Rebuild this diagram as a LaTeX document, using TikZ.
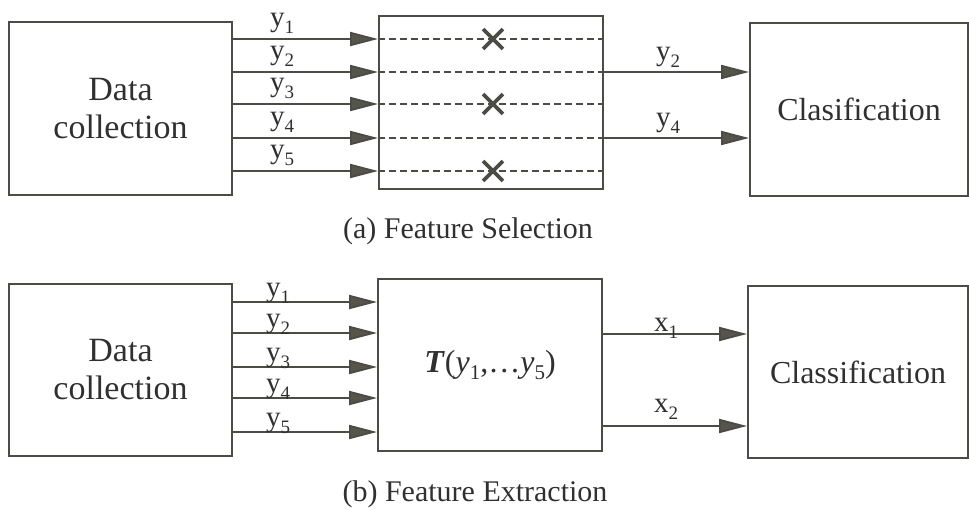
\documentclass[tikz,border=0pt]{standalone}
\usepackage{fontspec}
\setmainfont{Liberation Serif}
\usetikzlibrary{arrows.meta,shapes.misc}
\definecolor{ln}{HTML}{4C4C46}
\definecolor{tx}{HTML}{303030}
\definecolor{hd}{HTML}{55554B}
\newcommand{\mylbl}[2]{{\fontsize{29}{29}\selectfont #1\raisebox{-7pt}{\fontsize{19}{19}\selectfont #2}}}
\newcommand{\mysub}[1]{\raisebox{-7pt}{\fontsize{21}{21}\selectfont #1}}
\begin{document}
\begin{tikzpicture}[x=1pt,y=-1pt,
 box/.style={draw=ln, line width=1.9pt, inner sep=0pt, text=tx},
 arr/.style={draw=ln, line width=1.9pt, -{Triangle[length=28pt,width=14pt,fill=hd]}},
 dsh/.style={draw=ln, line width=2pt, dash pattern=on 7pt off 4pt},
 xmark/.style={cross out, draw=ln, line width=3.8pt, minimum size=16pt, inner sep=0pt},
 lab/.style={anchor=base, text=tx, inner sep=0pt},
 captext/.style={text=tx, inner sep=0pt, font=\fontsize{30}{30}\selectfont},
 big/.style={font=\fontsize{34}{38}\selectfont, align=center},
 cls/.style={font=\fontsize{32}{32}\selectfont},
]
\useasboundingbox (0,0) rectangle (969,509);

% ---------- (a) Feature Selection ----------
\node[box, big, minimum width=223pt, minimum height=173pt] (dc1) at (120.5,108.5) {Data\\collection};
\node[box, minimum width=224pt, minimum height=173pt] (sel) at (491,102.5) {};
\node[box, cls, minimum width=218pt, minimum height=173pt] (cl1) at (859,109.5) {Clasification};

\coordinate (a1) at (0,39);
\coordinate (a2) at (0,72);
\coordinate (a3) at (0,104);
\coordinate (a4) at (0,138);
\coordinate (a5) at (0,171);

\foreach \i in {1,...,5}{
  \draw[arr] (dc1.east |- a\i) -- (sel.west |- a\i);
  \draw[dsh] (sel.west |- a\i) -- (sel.east |- a\i);
}
\node[xmark] (x1) at (493,39) {};
\node[xmark] (x3) at (493,104) {};
\node[xmark] (x5) at (493,171) {};

\draw[arr] (sel.east |- a2) -- (cl1.west |- a2);
\draw[arr] (sel.east |- a4) -- (cl1.west |- a4);

\node[lab] (ly1) at (282,26) {\mylbl{y}{1}};
\node[lab] (ly2) at (282,59) {\mylbl{y}{2}};
\node[lab] (ly3) at (282,91) {\mylbl{y}{3}};
\node[lab] (ly4) at (282,125) {\mylbl{y}{4}};
\node[lab] (ly5) at (282,158) {\mylbl{y}{5}};
\node[lab] (ry2) at (668,60) {\mylbl{y}{2}};
\node[lab] (ry4) at (668,126) {\mylbl{y}{4}};

\node[captext] (capa) at (468,231) {(a) Feature Selection};

% ---------- (b) Feature Extraction ----------
\node[box, big, minimum width=223pt, minimum height=172pt] (dc2) at (120.5,370) {Data\\collection};
\node[box, minimum width=224pt, minimum height=172pt, font=\fontsize{32}{32}\selectfont] (T) at (490,365)
  {\textbf{\textit{T}}(\textit{y}\mysub{1},\ldots\textit{y}\mysub{5})};
\node[box, cls, minimum width=220pt, minimum height=172pt] (cl2) at (858,372) {Classification};

\coordinate (b1) at (0,302);
\coordinate (b2) at (0,333);
\coordinate (b3) at (0,367);
\coordinate (b4) at (0,398);
\coordinate (b5) at (0,432);
\coordinate (c1) at (0,334);
\coordinate (c2) at (0,426);

\foreach \i in {1,...,5}{
  \draw[arr] (dc2.east |- b\i) -- (T.west |- b\i);
}
\draw[arr] (T.east |- c1) -- (cl2.west |- c1);
\draw[arr] (T.east |- c2) -- (cl2.west |- c2);

\node[lab] (my1) at (278,296) {\mylbl{y}{1}};
\node[lab] (my2) at (278,327) {\mylbl{y}{2}};
\node[lab] (my3) at (278,361) {\mylbl{y}{3}};
\node[lab] (my4) at (278,392) {\mylbl{y}{4}};
\node[lab] (my5) at (278,426) {\mylbl{y}{5}};
\node[lab] (rx1) at (666,331) {\mylbl{x}{1}};
\node[lab] (rx2) at (666,412) {\mylbl{x}{2}};

\node[captext] (capb) at (475,494) {(b) Feature Extraction};
\end{tikzpicture}
\end{document}
